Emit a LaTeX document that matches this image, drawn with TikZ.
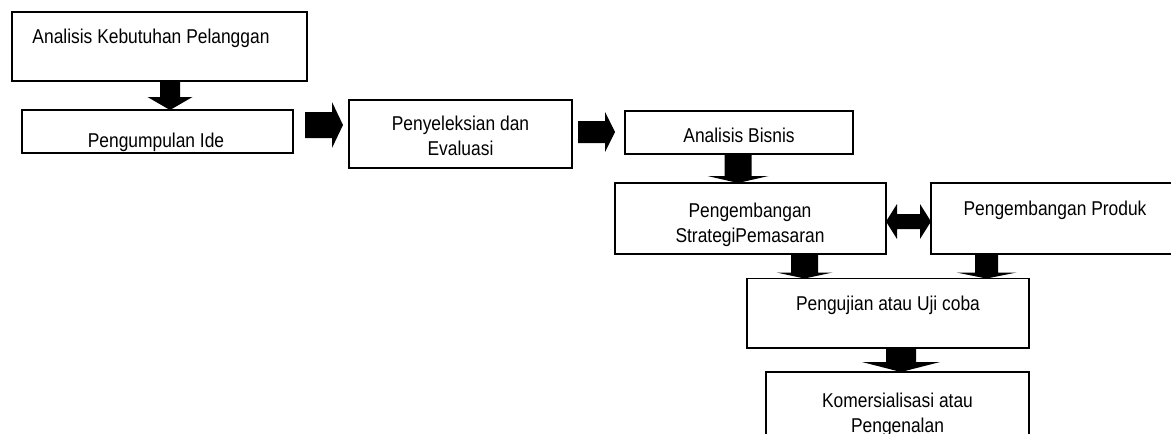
\documentclass[tikz,border=0pt]{standalone}
\usepackage{fontspec}
\setmainfont{Liberation Sans}[FakeStretch=0.87]
\usetikzlibrary{calc}
\tikzset{
  box/.style={draw, line width=1.3pt, inner sep=0pt, outer sep=0pt},
  lbl/.style={inner sep=0pt, outer sep=0pt, anchor=base, font=\fontsize{20}{25}\selectfont},
  blk/.style={fill=black},
}
\newcommand\twoline[2]{\parbox[t]{9cm}{\centering #1\\#2}}
% block arrow pointing down: x, from, to, shaft half width, head half width, head length
\newcommand\blockdown[6]{%
  \fill[blk] let \p1=(#2.south), \p2=(#3.north) in
    (#1pt-#4pt,\y1) -- (#1pt+#4pt,\y1) -- (#1pt+#4pt,\y2+#6pt) -- (#1pt+#5pt,\y2+#6pt)
    -- (#1pt,\y2) -- (#1pt-#5pt,\y2+#6pt) -- (#1pt-#4pt,\y2+#6pt) -- cycle;}
% block arrow pointing right: y, from, to, start gap, end gap, shaft half, head half, head length
\newcommand\blockright[8]{%
  \fill[blk] let \p1=(#2.east), \p2=(#3.west) in
    (\x1+#4pt,-#1pt+#6pt) -- (\x2-#5pt-#8pt,-#1pt+#6pt) -- (\x2-#5pt-#8pt,-#1pt+#7pt)
    -- (\x2-#5pt,-#1pt) -- (\x2-#5pt-#8pt,-#1pt-#7pt) -- (\x2-#5pt-#8pt,-#1pt-#6pt)
    -- (\x1+#4pt,-#1pt-#6pt) -- cycle;}
\begin{document}
\begin{tikzpicture}[x=1pt,y=-1pt]
\useasboundingbox (0,0) rectangle (1171,434);
\fill[white] (0,0) rectangle (1171,434);
\clip (0,0) rectangle (1171,434);

% boxes
\node[box, minimum width=295pt, minimum height=69pt] (b1) at (159.5,46.5) {};
\node[box, minimum width=271pt, minimum height=43pt] (b2) at (157.5,131.5) {};
\node[box, minimum width=223pt, minimum height=68pt] (b3) at (460.5,134) {};
\node[box, minimum width=228pt, minimum height=43pt] (b4) at (739,132.5) {};
\node[box, minimum width=271pt, minimum height=71pt] (b5) at (750.5,218.5) {};
\node[box, minimum width=248pt, minimum height=71pt] (b6) at (1055,218.5) {};
\node[box, minimum width=282pt, minimum height=69.5pt] (b7) at (888,313.25) {};
\node[box, minimum width=263pt, minimum height=80pt] (b8) at (897.5,412) {};

% texts
\node[lbl] (t1) at (151,43) {Analisis Kebutuhan Pelanggan};
\begin{scope}
  \clip (b2.south west) rectangle (b2.north east);
  \node[lbl] (t2) at (156,147) {Pengumpulan Ide};
\end{scope}
\node[lbl] (t3) at (460.5,130) {\twoline{Penyeleksian dan}{Evaluasi}};
\node[lbl] (t4) at (739,142) {Analisis Bisnis};
\node[lbl] (t5) at (750,217) {\twoline{Pengembangan}{StrategiPemasaran}};
\node[lbl] (t6) at (1055,215) {Pengembangan Produk};
\node[lbl] (t7) at (888,310) {Pengujian atau Uji coba};
\node[lbl] (t8) at (897.5,407) {\twoline{Komersialisasi atau}{Pengenalan}};

% block arrows
\blockdown{170}{b1}{b2}{10}{22.5}{13}
\blockright{125}{b2}{b3}{12}{6}{13}{23}{11}
\blockright{132}{b3}{b4}{6}{10}{11}{20}{10}
\blockdown{738}{b4}{b5}{13.5}{30.5}{7}
\fill[blk] let \p1=(b5.east), \p2=(b6.west) in
  (\x1,-221.5pt) -- (\x1+11pt,-204pt) -- (\x1+11pt,-214pt) -- (\x2-11pt,-214pt)
  -- (\x2-11pt,-204pt) -- (\x2,-221.5pt) -- (\x2-11pt,-239pt) -- (\x2-11pt,-229pt)
  -- (\x1+11pt,-229pt) -- (\x1+11pt,-239pt) -- cycle;
\blockdown{804.5}{b5}{b7}{13.5}{28}{6}
\blockdown{986.5}{b6}{b7}{11.5}{30}{6}
\blockdown{901}{b7}{b8}{15}{39}{10}
\end{tikzpicture}
\end{document}
